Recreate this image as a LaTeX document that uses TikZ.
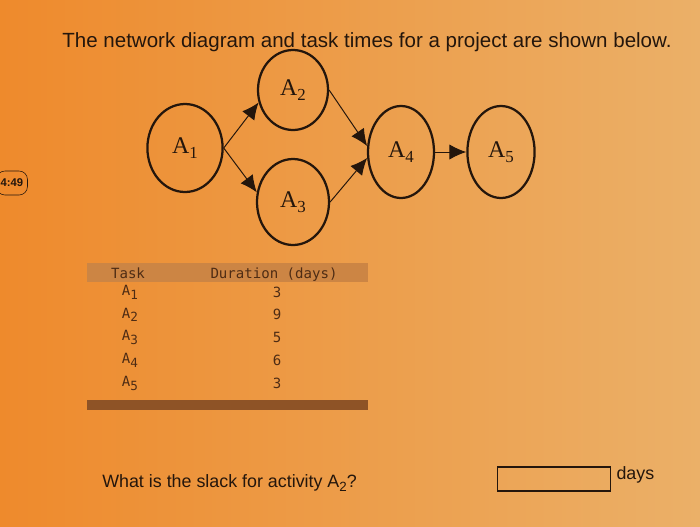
\documentclass[tikz,border=0pt]{standalone}
\usepackage{fontspec}
\setmainfont{Liberation Sans}
\setmonofont{DejaVu Sans Mono}
\newfontfamily\labelfont{Liberation Serif}
\usetikzlibrary{shapes.geometric, arrows.meta, positioning}
\definecolor{BGleft}{HTML}{EE8A2C}
\definecolor{BGright}{HTML}{EBB068}
\definecolor{Ink}{HTML}{24160C}
\definecolor{TableInk}{HTML}{4E2C14}
\definecolor{Band}{HTML}{CC8544}
\definecolor{Rule}{HTML}{8E5326}
\newcommand{\act}[1]{{\labelfont A\raisebox{-0.45ex}{\fontsize{12}{14}\selectfont #1}}}
\newcommand{\tsk}[1]{A\raisebox{-0.5ex}{\fontsize{9}{10}\selectfont #1}}
\tikzstyle{activity} = [ellipse, draw=Ink, line width=1.6pt, minimum width=1.8cm, minimum height=2.15cm, inner sep=0pt, font=\fontsize{17}{19}\selectfont, text=Ink]
\tikzstyle{arrow} = [draw=Ink, line width=0.7pt, -{Latex[length=4.2mm,width=3.8mm]}]
\tikzstyle{cell} = [font=\ttfamily\fontsize{10}{12}\selectfont, text=TableInk, inner sep=0pt]
\tikzstyle{plain} = [font=\fontsize{12.7}{15}\selectfont, text=Ink, inner sep=0pt]

\begin{document}
\begin{tikzpicture}[node distance=2.7cm]
\useasboundingbox (0,0) rectangle (17.5,-13.15);
\shade[left color=BGleft, right color=BGright] (0,0) rectangle (17.5,-13.15);

\node (title) at (9.175,-1.05) [font=\fontsize{14.6}{17}\selectfont, text=Ink] {The network diagram and task times for a project are shown below.};

% timer badge, cut by the left edge
\node (badge) at (0.3,-4.575) [draw=Ink, rounded corners=6pt, minimum height=0.6cm, inner xsep=3pt, font=\fontsize{8}{9}\selectfont\bfseries, text=Ink] {4:49};

\node (A1) at (4.625,-3.7) [activity, minimum width=1.88cm, minimum height=2.2cm] {\act{1}};
\node (A2) [activity, right of=A1, yshift=1.45cm, minimum width=1.75cm, minimum height=2.0cm] {\act{2}};
\node (A3) [activity, below of=A2, yshift=-0.1cm] {\act{3}};
\node (A4) [activity, right of=A1, xshift=2.7cm, yshift=-0.1cm, minimum width=1.65cm, minimum height=2.3cm] {\act{4}};
\node (A5) [activity, right of=A4, xshift=-0.2cm, minimum width=1.68cm, minimum height=2.3cm] {\act{5}};

\draw [arrow] (A1.east) -- (A2.200);
\draw [arrow] (A1.east) -- (A3.165);
\draw [arrow] (A2.east) -- (A4.170);
\draw [arrow] (A3.east) -- (A4.190);
\draw [arrow] (A4) -- (A5);

% table
\fill[Band] (2.175,-6.575) rectangle (9.2,-7.05);
\node (task) at (3.2,-6.95) [cell, anchor=base] {Task};
\node (dur) at (6.85,-6.95) [cell, anchor=base] {Duration (days)};

\node (t1) at (3.25,-7.3) [cell] {\tsk{1}};
\node (t2) [cell, below of=t1, node distance=0.57cm] {\tsk{2}};
\node (t3) [cell, below of=t2, node distance=0.57cm] {\tsk{3}};
\node (t4) [cell, below of=t3, node distance=0.57cm] {\tsk{4}};
\node (t5) [cell, below of=t4, node distance=0.57cm] {\tsk{5}};

\node (d1) at (6.925,-7.3) [cell] {3};
\node (d2) [cell, below of=d1, node distance=0.57cm] {9};
\node (d3) [cell, below of=d2, node distance=0.57cm] {5};
\node (d4) [cell, below of=d3, node distance=0.57cm] {6};
\node (d5) [cell, below of=d4, node distance=0.57cm] {3};

\fill[Rule] (2.175,-10.0) rectangle (9.2,-10.25);

% question
\node (question) at (2.55,-12.075) [plain, anchor=west] {What is the slack for activity A\raisebox{-0.45ex}{\fontsize{9.5}{10}\selectfont 2}?};
\node (answer) at (13.86,-11.975) [draw=Ink, line width=0.8pt, minimum width=2.825cm, minimum height=0.6cm] {};
\node (days) [plain, right=0.12cm of answer, yshift=0.1cm] {days};

\end{tikzpicture}
\end{document}
